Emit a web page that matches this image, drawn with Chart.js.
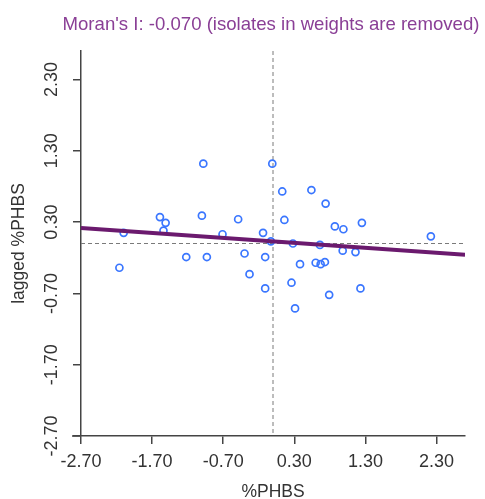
<!DOCTYPE html>
<html>
<head>
<meta charset="utf-8">
<script src="https://cdn.jsdelivr.net/npm/chart.js@4/dist/chart.umd.min.js"></script>
<style>
  html, body { margin: 0; padding: 0; background: #fff; }
  #wrap { width: 485px; height: 499px; }
</style>
</head>
<body>
<div id="wrap"><canvas id="myChart"></canvas></div>
<script>
// standardized %PHBS and its spatial lag
const phbs = [
  -0.98, -0.01, 0.13, 0.54, 0.74, -1.59, -1.00, -0.49, 0.16, 0.87,
  0.99, 1.25, -1.51, -1.54, -2.10, -0.71, -0.14, 2.22, -0.03, 0.28,
  0.66, 0.98, 1.16, -0.40, -1.22, -0.93, -0.11, -2.16, 0.38, 0.60,
  0.67, 0.73, -0.33, 0.26, -0.11, 0.79, 1.23, 0.31
];
const laggedPhbs = [
  1.12, 1.12, 0.73, 0.75, 0.56, 0.37, 0.39, 0.34, 0.33, 0.24,
  0.20, 0.29, 0.29, 0.18, 0.15, 0.13, 0.15, 0.10, 0.03, 0.00,
  -0.02, -0.10, -0.12, -0.14, -0.19, -0.19, -0.19, -0.34, -0.29, -0.27,
  -0.29, -0.26, -0.43, -0.55, -0.63, -0.72, -0.63, -0.91
];
const tickValues = [-2.7, -1.7, -0.7, 0.3, 1.3, 2.3];
const moranI = -0.070;
const fitIntercept = 0.03;
const axisMin = -2.7, axisMax = 2.7;
const titleText = "Moran's I: -0.070 (isolates in weights are removed)";

const FONT = '"Liberation Sans", Arial, sans-serif';

//--mean lines, title over the plot, rotated y tick labels--//
const extras = {
  id: 'extras',
  beforeDatasetsDraw(chart) {
    const { ctx, chartArea: a, scales: { x, y } } = chart;
    const x0 = x.getPixelForValue(0);
    const y0 = y.getPixelForValue(0);
    ctx.save();
    ctx.strokeStyle = '#7a7a7a';
    ctx.lineWidth = 1;
    ctx.setLineDash([4, 3]);
    ctx.beginPath();
    ctx.moveTo(x0, a.top);
    ctx.lineTo(x0, a.bottom);
    ctx.moveTo(a.left, y0);
    ctx.lineTo(a.right, y0);
    ctx.stroke();
    ctx.restore();
  },
  afterDraw(chart) {
    const { ctx, chartArea: a, scales: { y } } = chart;
    ctx.save();
    // x axis line runs a bit past the y axis, like the original
    ctx.strokeStyle = '#444';
    ctx.lineWidth = 1.5;
    ctx.beginPath();
    ctx.moveTo(a.left - 9, a.bottom);
    ctx.lineTo(a.left, a.bottom);
    ctx.stroke();

    ctx.font = '18.6px ' + FONT;
    ctx.fillStyle = '#8a3f96';
    ctx.textAlign = 'center';
    ctx.textBaseline = 'middle';
    ctx.fillText(titleText, (a.left + a.right) / 2 - 2, 25);

    ctx.font = '18px ' + FONT;
    ctx.fillStyle = '#333';
    y.ticks.forEach(t => {
      ctx.save();
      ctx.translate(52, y.getPixelForValue(t.value));
      ctx.rotate(-Math.PI / 2);
      ctx.fillText(t.value.toFixed(2), 0, 0);
      ctx.restore();
    });
    ctx.restore();
  }
};

const fixTicks = scale => { scale.ticks = tickValues.map(v => ({ value: v })); };

new Chart(document.getElementById('myChart').getContext('2d'), {
  data: {
    datasets: [
      {
        type: 'line',
        data: [axisMin, axisMax].map(v => ({ x: v, y: fitIntercept + moranI * v })),
        borderColor: '#6b1a6e',
        borderWidth: 4,
        pointRadius: 0,
        order: 0
      },
      {
        type: 'scatter',
        data: phbs.map((v, i) => ({ x: v, y: laggedPhbs[i] })),
        pointRadius: 3.5,
        pointBorderWidth: 1.7,
        pointBorderColor: '#3a76ff',
        pointBackgroundColor: 'rgba(0,0,0,0)',
        order: 1
      }
    ]
  },
  options: {
    animation: false,
    responsive: true,
    maintainAspectRatio: false,
    layout: { padding: { left: 0, right: 20, top: 51, bottom: 0 } },
    plugins: {
      legend: { display: false },
      tooltip: { enabled: false },
      title: { display: false }
    },
    scales: {
      x: {
        type: 'linear',
        min: axisMin,
        max: axisMax,
        afterBuildTicks: fixTicks,
        afterFit: s => { s.height = 63; },
        border: { display: true, color: '#444', width: 1.5 },
        grid: { drawOnChartArea: false, drawTicks: true, tickLength: 8, color: '#444', lineWidth: 1.5 },
        ticks: {
          color: '#333',
          padding: 7,
          maxRotation: 0,
          font: { family: FONT, size: 18 },
          callback: v => Number(v).toFixed(2)
        },
        title: {
          display: true,
          text: '%PHBS',
          color: '#333',
          padding: { top: 0, bottom: 0 },
          font: { family: FONT, size: 17.5, lineHeight: 0.8 }
        }
      },
      y: {
        type: 'linear',
        min: axisMin,
        max: axisMax,
        afterBuildTicks: fixTicks,
        afterFit: s => { s.width = 81; },
        border: { display: true, color: '#444', width: 1.5 },
        grid: { drawOnChartArea: false, drawTicks: true, tickLength: 8, color: '#444', lineWidth: 1.5 },
        ticks: { display: false },
        title: {
          display: true,
          text: 'lagged %PHBS',
          color: '#333',
          padding: { top: 10, bottom: 0 },
          font: { family: FONT, size: 17.5, lineHeight: 1 }
        }
      }
    }
  },
  plugins: [extras]
});
</script>
</body>
</html>
